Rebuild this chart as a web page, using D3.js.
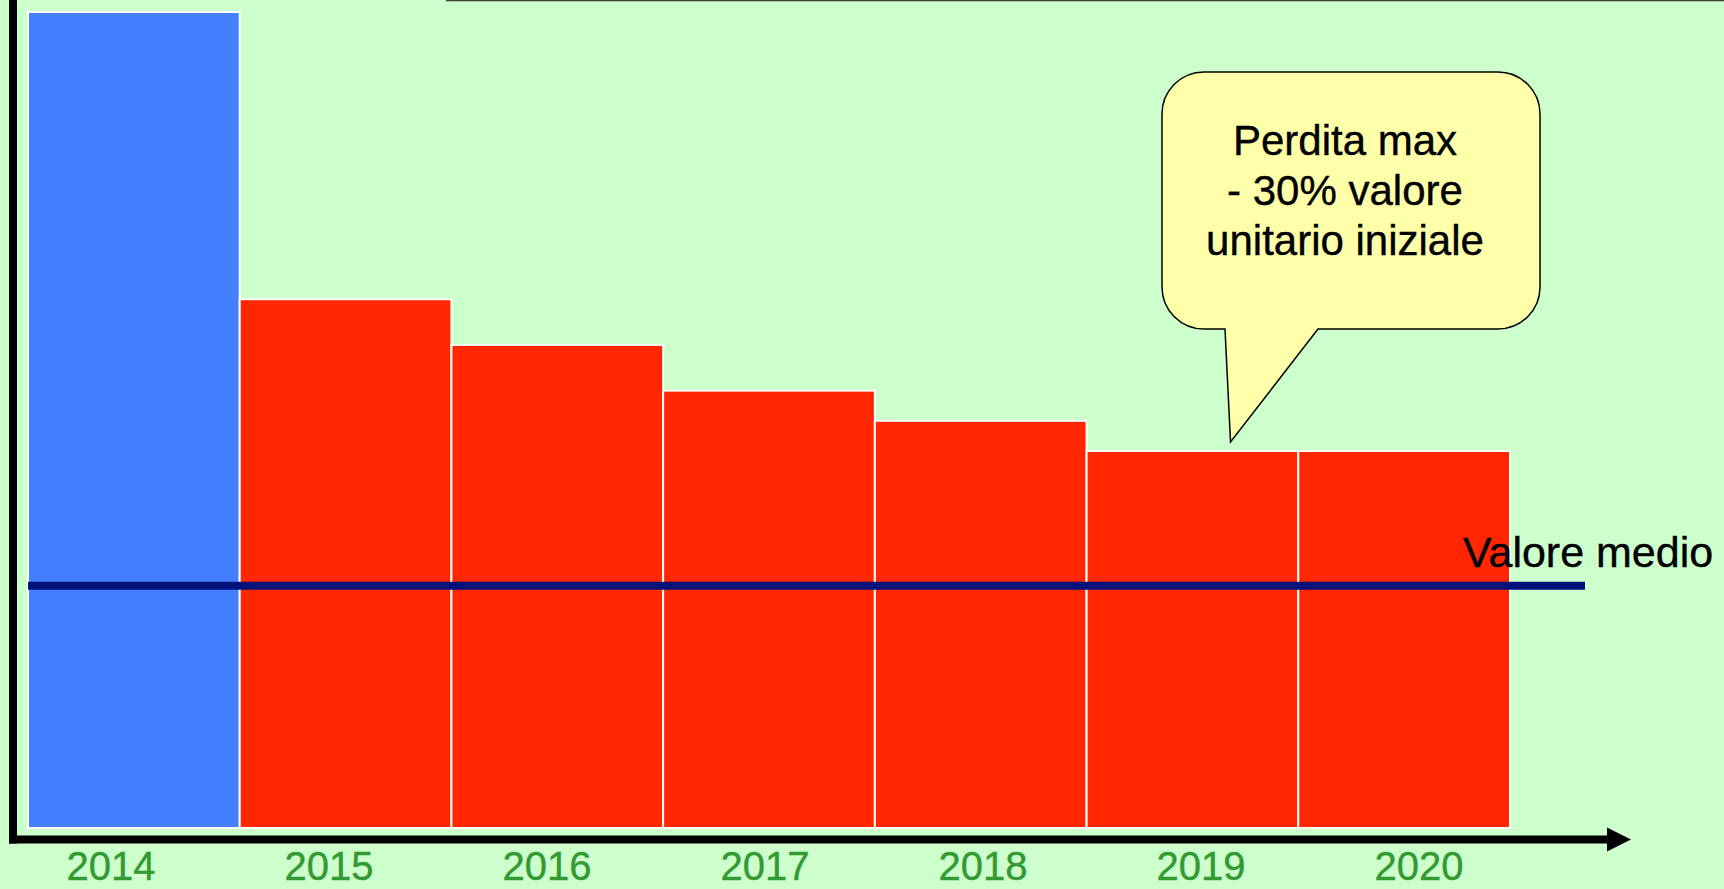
<!DOCTYPE html>
<html lang="it">
<head>
<meta charset="utf-8">
<title>Perdita di valore 2014–2020</title>
<script src="https://cdn.jsdelivr.net/npm/d3@7"></script>
<style>
  html, body { margin: 0; padding: 0; background: #ccffcc; }
  svg { display: block; }
  text { font-family: "Liberation Sans", Arial, sans-serif; }
</style>
</head>
<body>
<svg id="chart" width="1724" height="889"></svg>
<script>
// Anni e valore unitario (2014 = 100)
const years = ["2014", "2015", "2016", "2017", "2018", "2019", "2020"];
const values = [100, 64.8, 59.2, 53.6, 49.9, 46.2, 46.2];
const meanValue = 29.7;
const meanLabel = "Valore medio";
const calloutYear = "2019";
const calloutLines = ["Perdita max", "- 30% valore", "unitario iniziale"];

const W = 1724, H = 889;
const svg = d3.select("#chart");

// Sfondo
svg.append("rect").attr("width", W).attr("height", H).attr("fill", "#ccffcc");

// Bordo superiore della diapositiva
svg.append("line")
  .attr("x1", 446).attr("x2", W).attr("y1", 0.5).attr("y2", 0.5)
  .attr("stroke", "#3a443a").attr("stroke-width", 1.5);

// Scale
const x = d3.scaleBand().domain(years).range([28, 1510]).padding(0);
const y = d3.scaleLinear().domain([0, 100]).range([828, 12]);
const xLabel = d3.scalePoint().domain(years).range([111, 1419]);

// Barre
svg.append("g").selectAll("rect")
  .data(years.map((yr, i) => ({ yr, v: values[i] })))
  .join("rect")
  .attr("x", d => x(d.yr))
  .attr("y", d => y(d.v))
  .attr("width", x.bandwidth())
  .attr("height", d => y(0) - y(d.v))
  .attr("fill", (d, i) => i === 0 ? "#4280ff" : "#ff2600")
  .attr("stroke", "#ffffff")
  .attr("stroke-width", 2);

// Linea del valore medio
const meanY = y(meanValue);
const meanX1 = x.range()[0];
const meanX2 = x.range()[1] + 75;
svg.append("line")
  .attr("x1", meanX1).attr("x2", meanX2)
  .attr("y1", meanY).attr("y2", meanY)
  .attr("stroke", "#00127a").attr("stroke-width", 8);

svg.append("text")
  .attr("x", meanX2 - 122).attr("y", meanY - 19)
  .attr("font-size", 43).attr("fill", "#000")
  .attr("stroke", "#000").attr("stroke-width", 0.4)
  .text(meanLabel);

// Assi con freccia
const axisY = 839.5;
const axisLeft = 13;
svg.append("line")
  .attr("x1", axisLeft).attr("x2", axisLeft)
  .attr("y1", -2).attr("y2", axisY + 4)
  .attr("stroke", "#000").attr("stroke-width", 8);
svg.append("line")
  .attr("x1", axisLeft - 4).attr("x2", 1608)
  .attr("y1", axisY).attr("y2", axisY)
  .attr("stroke", "#000").attr("stroke-width", 8);
svg.append("path")
  .attr("d", `M1607,${axisY - 12} L1631,${axisY} L1607,${axisY + 12} Z`)
  .attr("fill", "#000");

// Etichette degli anni
svg.append("g").selectAll("text")
  .data(years)
  .join("text")
  .attr("x", d => xLabel(d))
  .attr("y", 880)
  .attr("text-anchor", "middle")
  .attr("font-size", 40)
  .attr("fill", "#339933")
  .attr("stroke", "#339933").attr("stroke-width", 0.4)
  .text(d => d);

// Fumetto
const tipX = x(calloutYear) + x.bandwidth() * 0.68;
const tipY = y(values[years.indexOf(calloutYear)]) - 9;
const bx0 = 1162, bx1 = 1540, by0 = 72, by1 = 329, r = 42;
const tail0 = 1225, tail1 = 1318;
const bubble = d3.path();
bubble.moveTo(bx0 + r, by0);
bubble.lineTo(bx1 - r, by0);
bubble.arcTo(bx1, by0, bx1, by0 + r, r);
bubble.lineTo(bx1, by1 - r);
bubble.arcTo(bx1, by1, bx1 - r, by1, r);
bubble.lineTo(tail1, by1);
bubble.lineTo(tipX, tipY);
bubble.lineTo(tail0, by1);
bubble.lineTo(bx0 + r, by1);
bubble.arcTo(bx0, by1, bx0, by1 - r, r);
bubble.lineTo(bx0, by0 + r);
bubble.arcTo(bx0, by0, bx0 + r, by0, r);
bubble.closePath();
svg.append("path")
  .attr("d", bubble.toString())
  .attr("fill", "#ffffaa")
  .attr("stroke", "#000")
  .attr("stroke-width", 1.5);

svg.append("g").selectAll("text")
  .data(calloutLines)
  .join("text")
  .attr("x", 1345)
  .attr("y", (d, i) => 155 + i * 50)
  .attr("text-anchor", "middle")
  .attr("font-size", 42)
  .attr("fill", "#000")
  .attr("stroke", "#000").attr("stroke-width", 0.4)
  .text(d => d);
</script>
</body>
</html>
